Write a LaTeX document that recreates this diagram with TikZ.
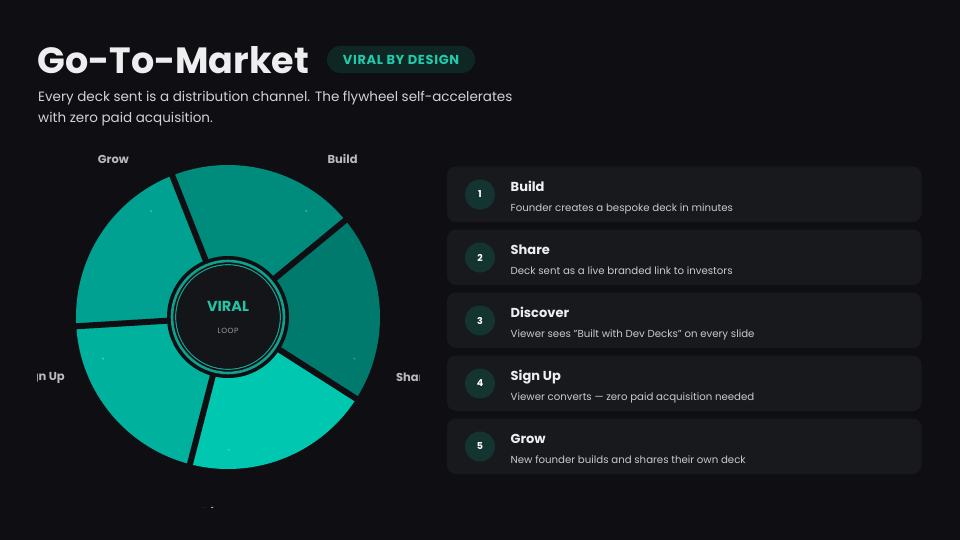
\documentclass[tikz,border=0pt]{standalone}
\usepackage{fontspec}
\setmainfont{Poppins}
\definecolor{bg}{HTML}{0F0F13}
\definecolor{cardc}{HTML}{18191D}
\definecolor{numfill}{HTML}{133430}
\definecolor{titlec}{HTML}{EEEEF0}
\definecolor{subc}{HTML}{D2D2D6}
\definecolor{descc}{HTML}{C9C9CE}
\definecolor{badgefill}{HTML}{0E2624}
\definecolor{badgetext}{HTML}{1FCBAA}
\definecolor{viralc}{HTML}{22C4A6}
\definecolor{loopc}{HTML}{9A9AA0}
\definecolor{plabel}{HTML}{B9B9BE}
\definecolor{wbuild}{HTML}{008C7D}
\definecolor{wshare}{HTML}{007A6C}
\definecolor{wdisc}{HTML}{00C8B0}
\definecolor{wsign}{HTML}{00B19D}
\definecolor{wgrow}{HTML}{00A190}
\definecolor{ringc}{HTML}{11A08E}
\definecolor{innerc}{HTML}{141519}
\tikzset{
  cardbox/.style={fill=cardc, rounded corners=9pt},
  numcirc/.style={circle, fill=numfill, minimum size=30pt, inner sep=0pt, text=white, font=\bfseries\fontsize{9.5}{11}\selectfont},
  cardtitle/.style={anchor=base west, inner sep=0pt, text=titlec, font=\bfseries\fontsize{13}{16}\selectfont},
  carddesc/.style={anchor=base west, inner sep=0pt, text=descc, font=\fontsize{10.2}{13}\selectfont},
  pielabel/.style={inner sep=0pt, text=plabel, font=\bfseries\fontsize{11.5}{14}\selectfont},
  subline/.style={anchor=base west, inner sep=0pt, text=subc, font=\fontsize{13.5}{18}\selectfont},
  gapline/.style={draw=bg, line width=6pt},
  wmark/.style={draw=white, opacity=.45, line width=.6pt}
}
\begin{document}
\begin{tikzpicture}[x=1pt,y=-1pt]
\fill[bg] (0,0) rectangle (960,540);
\useasboundingbox (0,0) rectangle (960,540);
% header
\node[anchor=base west, inner sep=0pt, text=titlec, font=\bfseries\fontsize{36.5}{44}\selectfont] (title) at (37,73.5) {Go-To-Market};
\node[fill=badgefill, rounded corners=13.5pt, minimum width=148pt, minimum height=27pt, inner sep=0pt, text=badgetext, font=\bfseries\fontsize{13}{15}\selectfont\addfontfeature{LetterSpace=5}] (badge) at (401,59.5) {VIRAL BY DESIGN};
\node[subline] (sub1) at (38,101.7) {Every deck sent is a distribution channel. The flywheel self-accelerates};
\node[subline] (sub2) at (38,122.7) {with zero paid acquisition.};
% pie
\begin{scope}
\clip (37,125) rectangle (419,507);
\begin{scope}[shift={(228,317)}, yscale=-1]
  \fill[wbuild] (0,0) -- (39.5:152) arc[start angle=39.5, end angle=111.5, radius=152] -- cycle;
  \fill[wgrow] (0,0) -- (111.5:152) arc[start angle=111.5, end angle=183.5, radius=152] -- cycle;
  \fill[wsign] (0,0) -- (183.5:152) arc[start angle=183.5, end angle=255.5, radius=152] -- cycle;
  \fill[wdisc] (0,0) -- (255.5:152) arc[start angle=255.5, end angle=327.5, radius=152] -- cycle;
  \fill[wshare] (0,0) -- (327.5:152) arc[start angle=327.5, end angle=399.5, radius=152] -- cycle;
  \foreach \g in {39.5,111.5,183.5,255.5,327.5}
    \draw[gapline] (0,0) -- (\g:154);
  \foreach \a in {54,126,198,270,342}
    \draw[wmark] (\a:132) -- ++(1.5,-1.5);
  \fill[bg] (0,0) circle[radius=61];
  \draw[ringc, line width=2.6pt] (0,0) circle[radius=56];
  \draw[ringc, line width=1.2pt] (0,0) circle[radius=52.3];
  \fill[innerc] (0,0) circle[radius=51.5];
  \node[text=viralc, font=\bfseries\fontsize{14.5}{17}\selectfont] (viral) at (0,11) {VIRAL};
  \node[text=loopc, font=\fontsize{7.5}{9}\selectfont\addfontfeature{LetterSpace=6}] (loop) at (0,-14) {LOOP};
  \node[pielabel] (lbuild) at (54:195) {Build};
  \node[pielabel] (lgrow) at (126:195) {Grow};
  \node[pielabel] (lsign) at (198:195) {Sign Up};
  \node[pielabel] (ldisc) at (270:195) {Discover};
  \node[pielabel] (lshare) at (342:195) {Share};
\end{scope}
\end{scope}
% cards
\foreach \i/\t/\d in {1/Build/Founder creates a bespoke deck in minutes,
  2/Share/Deck sent as a live branded link to investors,
  3/Discover/Viewer sees "Built with Dev Decks" on every slide,
  4/Sign Up/Viewer converts — zero paid acquisition needed,
  5/Grow/New founder builds and shares their own deck}{
  \pgfmathsetmacro{\top}{166.5+63*(\i-1)}
  \fill[cardbox] (447,\top) rectangle (921.5,\top+55.5);
  \node[numcirc] (num\i) at (480,\top+28) {\i};
  \node[cardtitle] (ct\i) at (510.5,\top+24.5) {\t};
  \node[carddesc] (cd\i) at (510.5,\top+44.5) {\d};
}
\end{tikzpicture}
\end{document}
